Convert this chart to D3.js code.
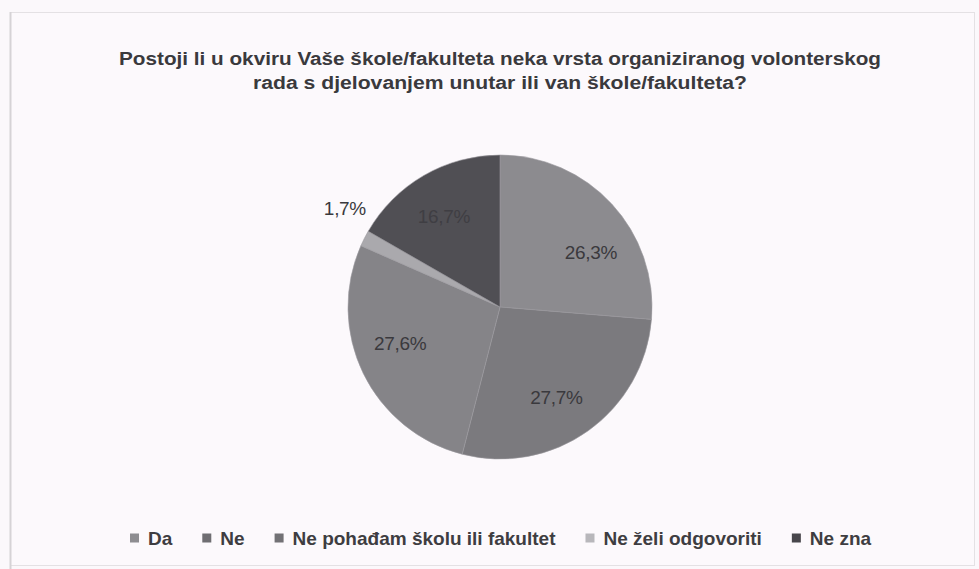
<!DOCTYPE html>
<html><head><meta charset="utf-8">
<script src="https://cdn.jsdelivr.net/npm/d3@7"></script>
<style>
html,body{margin:0;padding:0;background:#fbf8fb;}
svg{display:block;}
</style></head>
<body>
<svg id="c" width="979" height="569"></svg>
<script>
const categories = ["Da", "Ne", "Ne pohađam školu ili fakultet", "Ne želi odgovoriti", "Ne zna"];
const values = [26.3, 27.7, 27.6, 1.7, 16.7];
const labels = ["26,3%", "27,7%", "27,6%", "1,7%", "16,7%"];
const titleLines = ["Postoji li u okviru Vaše škole/fakulteta neka vrsta organiziranog volonterskog",
                    "rada s djelovanjem unutar ili van škole/fakulteta?"];

const sliceColors = ["#8c8b8f", "#7b7a7e", "#858488", "#aaa9ad", "#504f54"];
const legendColors = ["#8e8d91", "#6f6e72", "#727175", "#b8b7bb", "#47464b"];
const labelAngleNudge = [0.2, 0.06, 0.1, 0.1, -0.03];
const labelOutside = [false, false, false, true, false];

const svg = d3.select("#c");
const font = "'Liberation Sans Narrow','Arial Narrow','Liberation Sans',sans-serif";

// frame
svg.append("rect").attr("x", 10.5).attr("y", 12.5).attr("width", 964).attr("height", 553)
  .attr("fill", "#fcf9fc").attr("stroke", "#e4e1e4").attr("stroke-width", 1);
svg.append("line").attr("x1", 10.5).attr("x2", 10.5).attr("y1", 12).attr("y2", 569)
  .attr("stroke", "#d6d3d6").attr("stroke-width", 2);

// title (condensed look: scale glyphs horizontally)
const titleWidths = [762, 494];
svg.append("g").selectAll("text").data(titleLines).join("text")
  .attr("x", 500).attr("y", (d, i) => 65 + i * 24)
  .attr("text-anchor", "middle")
  .attr("font-family", font).attr("font-weight", "bold").attr("font-size", 18)
  .attr("textLength", (d, i) => titleWidths[i]).attr("lengthAdjust", "spacingAndGlyphs")
  .attr("fill", "#3a393d")
  .text(d => d);

// pie
const cx = 500, cy = 307, R = 152;
const pie = d3.pie().sort(null).value(d => d)(values);
const arc = d3.arc().innerRadius(0).outerRadius(R);
const g = svg.append("g").attr("transform", `translate(${cx},${cy})`);
g.selectAll("path").data(pie).join("path")
  .attr("d", arc)
  .attr("fill", (d, i) => sliceColors[i])
  .attr("stroke", "#9a999d").attr("stroke-width", 0.6);

g.selectAll("text.lbl").data(pie).join("text").attr("class", "lbl")
  .each(function(d, i) {
    const a = (d.startAngle + d.endAngle) / 2 + labelAngleNudge[i];
    const r = labelOutside[i] ? R + 32 : R * 0.70;
    d3.select(this)
      .attr("x", Math.sin(a) * r)
      .attr("y", -Math.cos(a) * r)
      .attr("dy", "0.35em");
  })
  .attr("text-anchor", "middle")
  .attr("font-family", "'Liberation Sans','DejaVu Sans',sans-serif")
  .attr("font-size", 19)
  .attr("letter-spacing", -0.3)
  .attr("fill", (d, i) => i === 4 ? "#3f3e43" : "#3a393d")
  .text((d, i) => labels[i]);

// legend
const legend = svg.append("g").attr("transform", "translate(0,538)");
let x = 130;
categories.forEach((c, i) => {
  const item = legend.append("g").attr("transform", `translate(${x},0)`);
  item.append("rect").attr("x", 0).attr("y", -4.5).attr("width", 9).attr("height", 9)
    .attr("fill", legendColors[i]);
  const t = item.append("text").attr("x", 18).attr("y", 0).attr("dy", "0.35em")
    .attr("font-family", font).attr("font-weight", "bold").attr("font-size", 19)
    .attr("fill", "#3e3d41").text(c);
  const w = t.node().getComputedTextLength();
  x += 18 + w + 30;
});
</script>
</body></html>
